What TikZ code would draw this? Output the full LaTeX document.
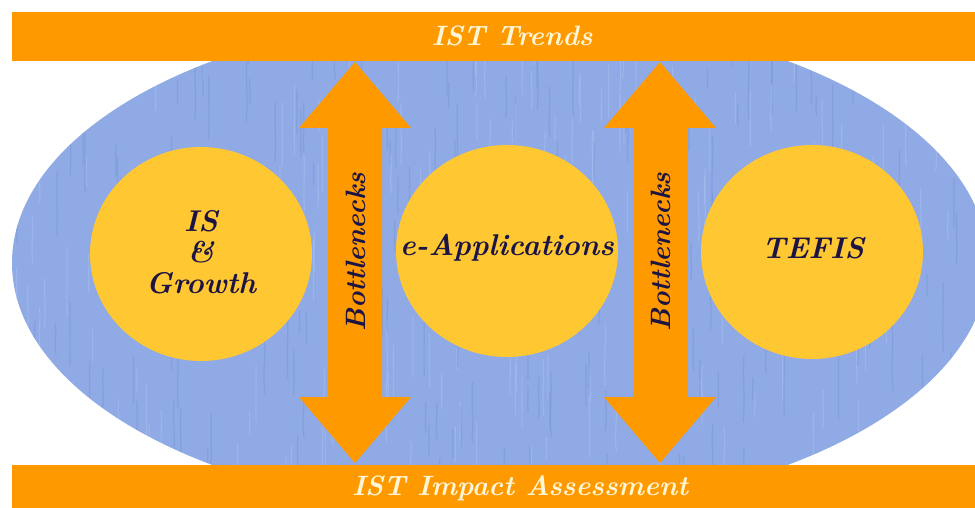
\documentclass[tikz,border=0pt]{standalone}
\definecolor{barorange}{RGB}{255,153,0}
\definecolor{ovalblue}{RGB}{143,170,228}
\definecolor{streaklight}{RGB}{172,196,242}
\definecolor{streakdark}{RGB}{118,148,214}
\definecolor{disc}{RGB}{255,200,50}
\definecolor{ink}{RGB}{28,20,68}
\definecolor{cream}{RGB}{255,246,214}
\tikzset{
  bar/.style={fill=barorange, draw=none},
  bartext/.style={text=cream, font=\bfseries\itshape\fontsize{28}{30}\selectfont, inner sep=0pt},
  disctext/.style={text=ink, font=\bfseries\itshape\fontsize{30}{31}\selectfont, align=center, inner sep=0pt},
  discshape/.style={fill=disc, draw=none},
  arrowshape/.style={fill=barorange, draw=none},
  streak/.style={line width=1.2pt, opacity=0.45},
  bntext/.style={text=ink, font=\bfseries\itshape\fontsize{28}{30}\selectfont, rotate=90, inner sep=0pt}
}
\begin{document}
\begin{tikzpicture}[x=1pt,y=-1pt]
\useasboundingbox (0,0) rectangle (975,508);
% blue oval with streaky texture
\fill[ovalblue] (500,263) ellipse [x radius=488, y radius=250];
\begin{scope}
  \clip (500,263) ellipse [x radius=488, y radius=250];
  \pgfmathsetseed{7}
  \foreach \i in {1,...,420}{
    \pgfmathsetmacro{\sx}{12+rnd*963}
    \pgfmathsetmacro{\sy}{10+rnd*480}
    \pgfmathsetmacro{\sl}{20+rnd*50}
    \pgfmathsetmacro{\sw}{rnd*4-2}
    \pgfmathparse{rnd>0.5 ? 1 : 0}
    \ifnum\pgfmathresult=1
      \draw[streak, streaklight] (\sx,\sy) .. controls (\sx+\sw,\sy+\sl/3) and (\sx-\sw,\sy+2*\sl/3) .. (\sx+\sw/2,\sy+\sl);
    \else
      \draw[streak, streakdark] (\sx,\sy) .. controls (\sx+\sw,\sy+\sl/3) and (\sx-\sw,\sy+2*\sl/3) .. (\sx+\sw/2,\sy+\sl);
    \fi
  }
\end{scope}
% discs
\fill[discshape] (201,254) ellipse [x radius=111, y radius=107];
\fill[discshape] (507,251) ellipse [x radius=111, y radius=106];
\fill[discshape] (812,252) ellipse [x radius=111, y radius=107];
\node[disctext] (isg) at (201,252) {IS\\\&\\Growth};
\node[disctext] (eapp) at (507,248) {e-Applications};
\node[disctext] (tefis) at (813,248) {TEFIS};
% double arrows
\foreach \x/\n in {355/a,660/b}{
  \fill[arrowshape] (\x,62) -- (\x+56,128) -- (\x+27,128) -- (\x+27,397) -- (\x+56,397)
    -- (\x,463) -- (\x-56,397) -- (\x-27,397) -- (\x-27,128) -- (\x-56,128) -- cycle;
  \node[bntext] (bn\n) at (\x+1,252) {Bottlenecks};
}
% bars
\fill[bar] (12,12) rectangle (975,61);
\fill[bar] (12,465) rectangle (975,508);
\node[bartext] (trends) at (512,36) {IST Trends};
\node[bartext] (impact) at (520,488) {IST Impact Assessment};
\end{tikzpicture}
\end{document}
